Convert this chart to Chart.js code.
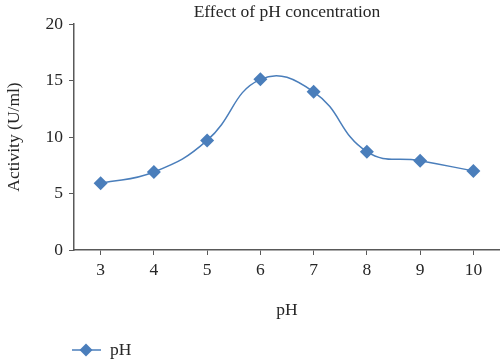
<!DOCTYPE html>
<html>
<head>
<meta charset="utf-8">
<script src="https://cdn.jsdelivr.net/npm/chart.js@4/dist/chart.umd.min.js"></script>
<style>
html,body{margin:0;padding:0;background:#fff;}
#wrap{width:500px;height:360px;position:relative;}
</style>
</head>
<body>
<div id="wrap"><canvas id="c" width="500" height="360"></canvas></div>
<script>
const categories = ['3','4','5','6','7','8','9','10'];
const activity = [5.9, 6.9, 9.7, 15.1, 14.0, 8.7, 7.9, 7.0];
const yTicks = [0, 5, 10, 15, 20];
const titleText = 'Effect of pH concentration';
const xTitle = 'pH';
const yTitle = 'Activity (U/ml)';
const seriesName = 'pH';

const FONT = "'Liberation Serif', 'DejaVu Serif', serif";
const FS = 17.5;
const BLUE = '#4a7ebb';
const AXIS = '#595959';
const TEXT = '#262626';

const extras = {
  id: 'extras',
  afterDraw(chart) {
    const ctx = chart.ctx;
    const ca = chart.chartArea;
    ctx.save();
    ctx.fillStyle = TEXT;
    ctx.font = FS + "px " + FONT;
    ctx.textAlign = 'center';
    ctx.textBaseline = 'middle';
    ctx.fillText(titleText, (ca.left + ca.right) / 2, 12);
    const ly = 350;
    ctx.strokeStyle = BLUE;
    ctx.lineWidth = 1.5;
    ctx.beginPath();
    ctx.moveTo(72, ly);
    ctx.lineTo(101, ly);
    ctx.stroke();
    ctx.fillStyle = BLUE;
    ctx.beginPath();
    const r = 6.5, cx = 86;
    ctx.moveTo(cx - r, ly); ctx.lineTo(cx, ly - r); ctx.lineTo(cx + r, ly); ctx.lineTo(cx, ly + r);
    ctx.closePath();
    ctx.fill();
    ctx.fillStyle = TEXT;
    ctx.textAlign = 'left';
    ctx.fillText(seriesName, 110, ly);
    ctx.restore();
  }
};

new Chart(document.getElementById('c'), {
  type: 'line',
  data: {
    labels: categories,
    datasets: [{
      label: seriesName,
      data: activity,
      borderColor: BLUE,
      backgroundColor: BLUE,
      borderWidth: 1.5,
      tension: 0.45,
      pointStyle: 'rectRot',
      pointRadius: 7,
      pointBorderWidth: 0,
      pointBackgroundColor: BLUE,
      fill: false
    }]
  },
  options: {
    responsive: false,
    animation: false,
    layout: { autoPadding: false, padding: { top: 24, right: 0, bottom: 35, left: 0 } },
    plugins: { legend: { display: false }, title: { display: false }, tooltip: { enabled: false } },
    scales: {
      x: {
        offset: true,
        grid: { offset: false, drawOnChartArea: false, drawTicks: true, tickLength: 5, color: AXIS },
        border: { color: AXIS, width: 1.5 },
        ticks: { color: TEXT, font: { family: FONT, size: FS }, padding: 5, maxRotation: 0 },
        title: { display: true, text: xTitle, color: TEXT, font: { family: FONT, size: FS }, padding: { top: 4, bottom: 4 } },
        afterFit(s) { s.height = 75; }
      },
      y: {
        min: 0, max: 20,
        afterBuildTicks(s) { s.ticks = yTicks.map(v => ({ value: v })); },
        grid: { drawOnChartArea: false, drawTicks: true, tickLength: 5, color: AXIS },
        border: { color: AXIS, width: 1.5 },
        ticks: { color: TEXT, font: { family: FONT, size: FS }, padding: 6 },
        title: { display: true, text: yTitle, color: TEXT, font: { family: FONT, size: FS }, padding: { top: 4, bottom: 4 } },
        afterFit(s) { s.width = 74; }
      }
    }
  },
  plugins: [extras]
});
</script>
</body>
</html>
